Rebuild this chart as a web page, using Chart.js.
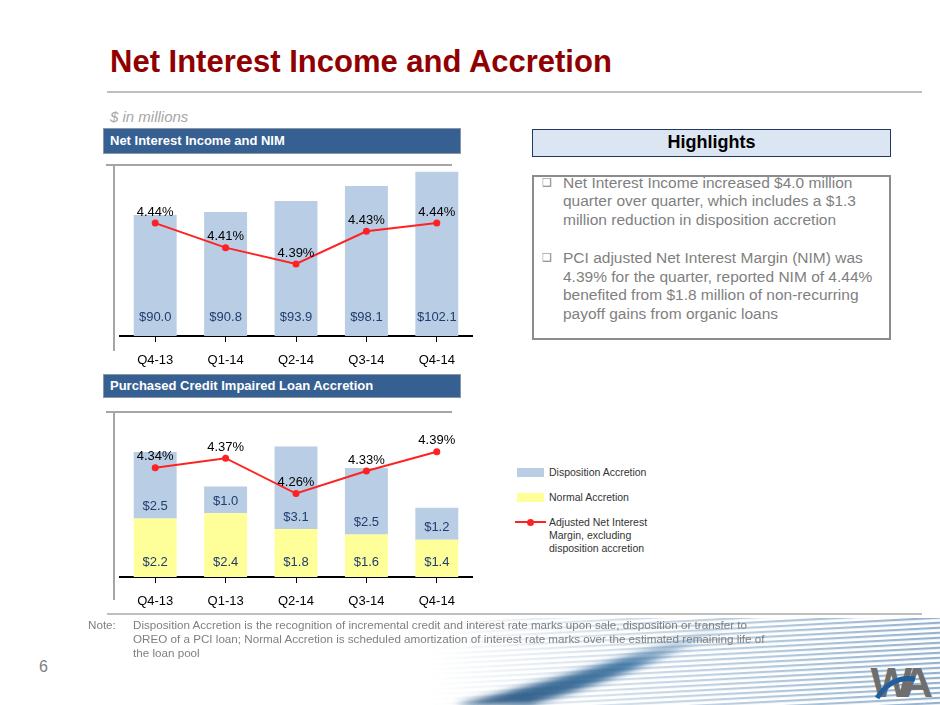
<!DOCTYPE html>
<html>
<head>
<meta charset="utf-8">
<script src="https://cdn.jsdelivr.net/npm/chart.js@4.4.1/dist/chart.umd.min.js"></script>
<style>
    body { margin: 0; width: 940px; height: 705px; background: #fff; position: relative; overflow: hidden;
        font-family: "Liberation Sans", Arial, sans-serif; }
    .abs { position: absolute; white-space: nowrap; }
    .hdr { position: absolute; box-sizing: border-box; background: #376092; border: 1.5px solid #8a96a6;
        color: #fff; font-weight: bold; font-size: 13px; padding-left: 6px; }
    .rule { position: absolute; background: #bfbfbf; }
    .frame { position: absolute; background: #a6a6a6; }
    canvas { position: absolute; }
    .lg { position: absolute; font-size: 10.5px; color: #333; line-height: 13px; white-space: nowrap; }
</style>
</head>
<body>

<svg class="abs" style="left:0;top:0" width="940" height="705">
    <defs>
        <pattern id="stripes" width="20" height="5" patternUnits="userSpaceOnUse" patternTransform="rotate(-3)">
            <rect width="20" height="2.2" fill="#6f97bd"></rect>
        </pattern>
        <linearGradient id="fadeX" x1="0" x2="1" y1="0" y2="0">
            <stop offset="0" stop-color="#fff" stop-opacity="0"></stop>
            <stop offset="0.45" stop-color="#fff" stop-opacity="0.5"></stop>
            <stop offset="1" stop-color="#fff" stop-opacity="1"></stop>
        </linearGradient>
        <mask id="stripeMask">
            <rect x="430" y="618" width="510" height="87" fill="url(#fadeX)"></rect>
        </mask>
        <linearGradient id="swoosh" x1="0" y1="1" x2="1" y2="0">
            <stop offset="0" stop-color="#0e3f6e"></stop>
            <stop offset="0.55" stop-color="#2f6a9c"></stop>
            <stop offset="1" stop-color="#b5cde0" stop-opacity="0"></stop>
        </linearGradient>
        <filter id="blur"><feGaussianBlur stdDeviation="3"></feGaussianBlur></filter>
    </defs>
    <rect x="430" y="618" width="510" height="87" fill="url(#stripes)" mask="url(#stripeMask)" opacity="0.75"></rect>
    <path d="M455 705 Q590 672 730 622 L736 625 Q620 680 530 705 Z" fill="url(#swoosh)" filter="url(#blur)" opacity="0.85"></path>
    <text x="829" y="697" font-family="Liberation Sans, Arial" font-weight="bold" font-size="42" fill="#6e6e6e"
          letter-spacing="-8" transform="scale(1.05 1)">WA</text>
    <path d="M877 698 Q892 675 915 679" stroke="#1f5fa0" stroke-width="5" fill="none"></path>
</svg>

<div class="abs" style="left:110px;top:44px;font-size:31px;line-height:36px;font-weight:bold;color:#900000;">Net Interest Income and Accretion</div>
<div class="rule" style="left:107px;top:91px;width:815px;height:2px;"></div>
<div class="abs" style="left:110px;top:108px;font-size:15px;line-height:18px;font-style:italic;color:#a6a6a6;">$ in millions</div>

<div class="hdr" style="left:103px;top:128px;width:358px;height:26px;line-height:23px;">Net Interest Income and NIM</div>
<div class="frame" style="left:106px;top:164px;width:346px;height:1.5px;"></div>
<div class="frame" style="left:113px;top:164px;width:1.5px;height:187px;"></div>
<canvas id="niiChart" width="390" height="216" style="left:100px;top:160px;width:390px;height:216px;"></canvas>

<div class="hdr" style="left:103px;top:374px;width:358px;height:24px;line-height:21px;">Purchased Credit Impaired Loan Accretion</div>
<div class="frame" style="left:106px;top:411px;width:346px;height:1.5px;"></div>
<div class="frame" style="left:113px;top:411px;width:1.5px;height:189px;"></div>
<canvas id="pciChart" width="390" height="210" style="left:100px;top:407px;width:390px;height:210px;"></canvas>

<div class="rule" style="left:107px;top:613px;width:815px;height:2px;"></div>

<!-- highlights -->
<div class="abs" style="left:532px;top:129px;width:359px;height:28px;box-sizing:border-box;background:#dce6f2;border:1.5px solid #1f3864;
     text-align:center;font-weight:bold;font-size:18px;line-height:25px;color:#000;">Highlights</div>
<div class="abs" style="left:532px;top:175px;width:359px;height:165px;box-sizing:border-box;border:2px solid #8c8c8c;"></div>
<div class="abs" style="left:542px;top:174px;font-family:'DejaVu Sans';font-size:11px;line-height:18.8px;color:#7f7f7f;">❑</div>
<div class="abs" style="left:542px;top:249px;font-family:'DejaVu Sans';font-size:11px;line-height:18.8px;color:#7f7f7f;">❑</div>
<div class="abs" style="left:563px;top:173.6px;font-size:15.5px;line-height:18.8px;color:#7f7f7f;">
    Net Interest Income increased $4.0 million<br>
    quarter over quarter, which includes a $1.3<br>
    million reduction in disposition accretion<br>
    <br>
    PCI adjusted Net Interest Margin (NIM) was<br>
    4.39% for the quarter, reported NIM of 4.44%<br>
    benefited from $1.8 million of non-recurring<br>
    payoff gains from organic loans
</div>

<!-- legend for the accretion chart -->
<div class="abs" style="left:517px;top:468px;width:27px;height:9px;background:#b9cde5;"></div>
<div class="lg" style="left:549px;top:465.5px;">Disposition Accretion</div>
<div class="abs" style="left:517px;top:493px;width:27px;height:9px;background:#ffff99;"></div>
<div class="lg" style="left:549px;top:490.5px;">Normal Accretion</div>
<div class="abs" style="left:515px;top:521px;width:31px;height:2px;background:#f22;"></div>
<div class="abs" style="left:527px;top:519px;width:7px;height:7px;border-radius:50%;background:#f22;"></div>
<div class="lg" style="left:549px;top:515.5px;">Adjusted Net Interest<br>Margin, excluding<br>disposition accretion</div>

<!-- note -->
<div class="abs" style="left:88px;top:618px;font-size:11.65px;line-height:14px;color:#7f7f7f;">Note:</div>
<div class="abs" style="left:133px;top:618px;font-size:11.65px;line-height:14px;color:#7f7f7f;">
    Disposition Accretion is the recognition of incremental credit and interest rate marks upon sale, disposition or transfer to<br>
    OREO of a PCI loan; Normal Accretion is scheduled amortization of interest rate marks over the estimated remaining life of<br>
    the loan pool
</div>
<div class="abs" style="left:39px;top:657px;font-size:16px;line-height:20px;color:#7f7f7f;">6</div>

<script>
// $ in millions
var niiQuarters = ["Q4-13", "Q1-14", "Q2-14", "Q3-14", "Q4-14"];
var niiValues = [90.0, 90.8, 93.9, 98.1, 102.1];
var nimValues = [4.44, 4.41, 4.39, 4.43, 4.44];

var pciQuarters = ["Q4-13", "Q1-13", "Q2-14", "Q3-14", "Q4-14"];
var normalAccretion = [2.2, 2.4, 1.8, 1.6, 1.4];
var dispositionAccretion = [2.5, 1.0, 3.1, 2.5, 1.2];
var adjustedNim = [4.34, 4.37, 4.26, 4.33, 4.39];

const fontFamily = '"Liberation Sans", Arial, sans-serif';

// draws the % over the line points and the $ inside the bars
const valueLabels = {
    id: "valueLabels",
    afterDatasetsDraw(chart) {
        const ctx = chart.ctx;
        ctx.save();
        ctx.font = "13px " + fontFamily;
        ctx.textAlign = "center";
        ctx.textBaseline = "middle";
        chart.data.datasets.forEach((ds, i) => {
            const meta = chart.getDatasetMeta(i);
            meta.data.forEach((el, j) => {
                const v = ds.data[j];
                if (ds.type === "line") {
                    ctx.fillStyle = "#000";
                    ctx.fillText(v.toFixed(2) + "%", el.x, el.y - 11);
                } else {
                    // bars of the first chart start below the cut axis, so clamp to the axis
                    const base = Math.min(el.base, chart.chartArea.bottom);
                    ctx.fillStyle = "#1f3d6e";
                    ctx.fillText("$" + v.toFixed(1), el.x, base - ds.labelOffset);
                }
            });
        });
        ctx.restore();
    },
};

function xAxis() {
    return {
        offset: true,
        grid: { display: true, drawOnChartArea: false, drawTicks: true, tickLength: 6, color: "#000", offset: false },
        border: { display: true, color: "#000", width: 2 },
        ticks: { color: "#000", font: { size: 13, family: fontFamily }, padding: 11 },
        afterFit: (s) => { s.height = 40; },
    };
}

const commonOptions = {
    responsive: false,
    animation: false,
    layout: { padding: { left: 20, right: 18, top: 5, bottom: 0 } },
    plugins: { legend: { display: false }, tooltip: { enabled: false } },
};

const lineStyle = {
    type: "line",
    borderColor: "#f22",
    backgroundColor: "#f22",
    borderWidth: 2,
    pointRadius: 3.5,
    pointBorderWidth: 0,
    yAxisID: "y2",
    order: 0,
};

new Chart(document.getElementById("niiChart"), {
    type: "bar",
    data: {
        labels: niiQuarters,
        datasets: [
            Object.assign({ label: "NIM", data: nimValues }, lineStyle),
            {
                type: "bar",
                label: "Net Interest Income",
                data: niiValues,
                backgroundColor: "#b9cde5",
                barPercentage: 0.61,
                categoryPercentage: 1,
                labelOffset: 19,
                order: 1,
            },
        ],
    },
    options: Object.assign({}, commonOptions, {
        scales: {
            x: xAxis(),
            y: { display: false, min: 56, max: 104 },
            y2: { display: false, min: 4.302, max: 4.511 },
        },
    }),
    plugins: [valueLabels],
});

new Chart(document.getElementById("pciChart"), {
    type: "bar",
    data: {
        labels: pciQuarters,
        datasets: [
            Object.assign({ label: "Adjusted Net Interest Margin, excluding disposition accretion", data: adjustedNim }, lineStyle),
            {
                type: "bar",
                label: "Normal Accretion",
                data: normalAccretion,
                backgroundColor: "#ffff99",
                barPercentage: 0.61,
                categoryPercentage: 1,
                stack: "acc",
                labelOffset: 15,
                order: 1,
            },
            {
                type: "bar",
                label: "Disposition Accretion",
                data: dispositionAccretion,
                backgroundColor: "#b9cde5",
                barPercentage: 0.61,
                categoryPercentage: 1,
                stack: "acc",
                labelOffset: 12,
                order: 1,
            },
        ],
    },
    options: Object.assign({}, commonOptions, {
        scales: {
            x: Object.assign(xAxis(), { stacked: true }),
            y: { display: false, stacked: true, min: 0, max: 6.2 },
            y2: { display: false, min: 4.0, max: 4.514 },
        },
    }),
    plugins: [valueLabels],
});
</script>
</body>
</html>
